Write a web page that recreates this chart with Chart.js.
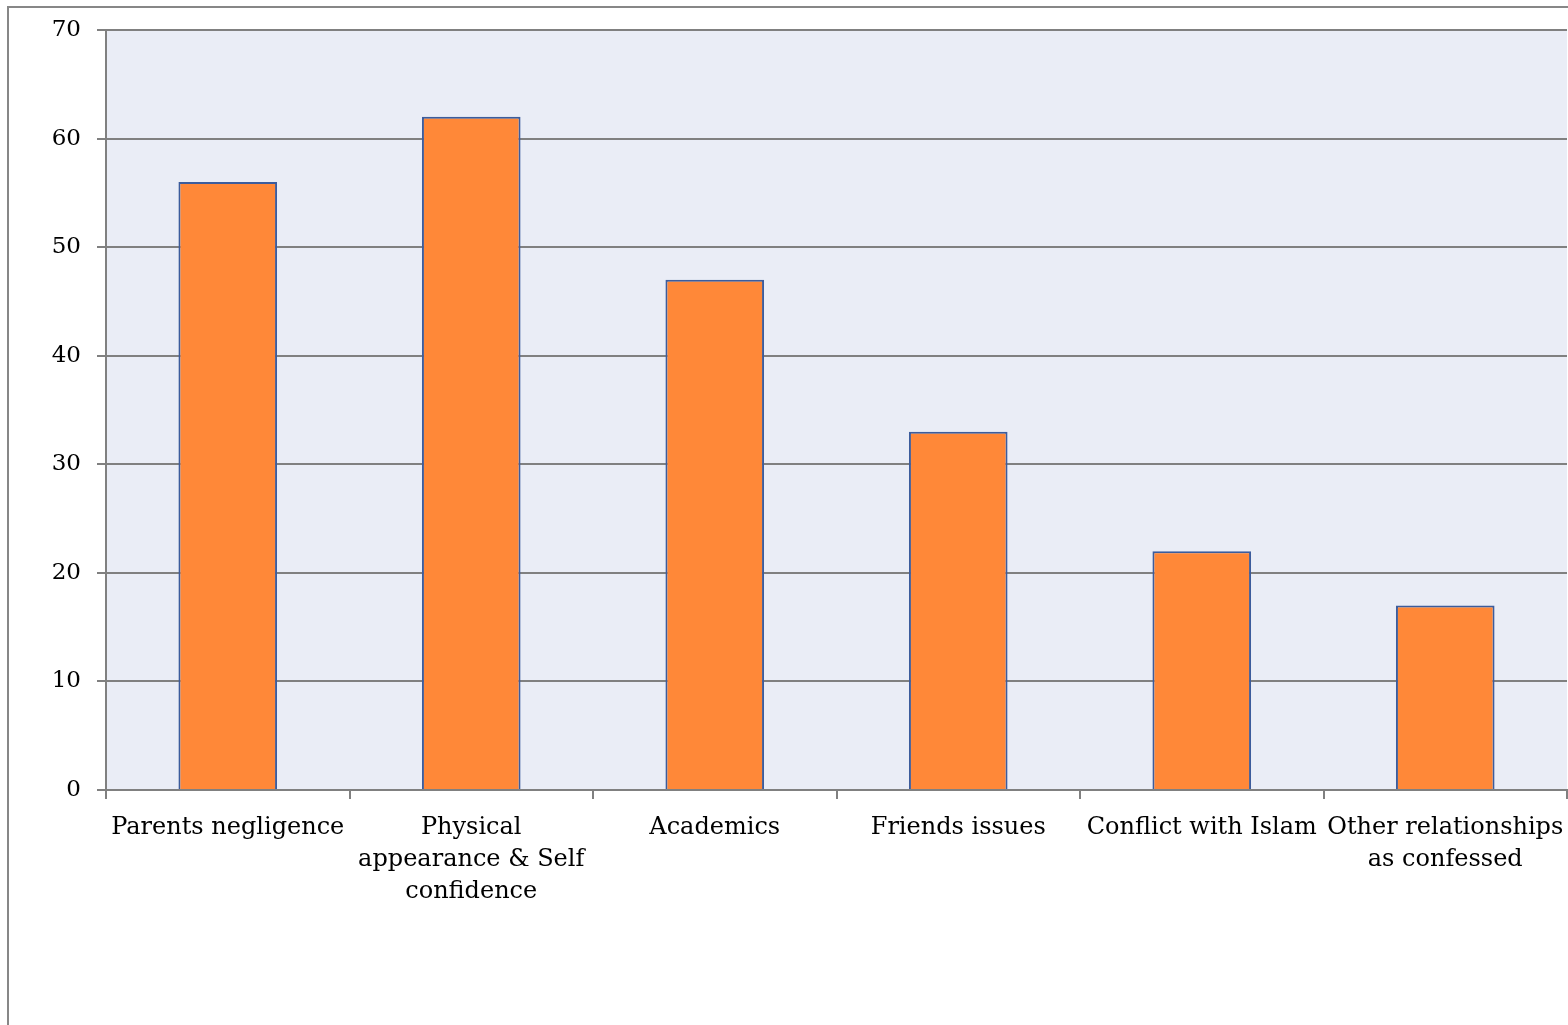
<!DOCTYPE html>
<html>
<head>
<meta charset="utf-8">
<script src="https://cdn.jsdelivr.net/npm/chart.js@4/dist/chart.umd.min.js"></script>
<style>
    html, body { margin: 0; padding: 0; background: #fff; overflow: hidden; }
    #frame {
        position: absolute; left: 7px; top: 6px; width: 1700px; height: 1200px;
        border: 2px solid #878787; box-sizing: border-box;
    }
    #wrap { position: absolute; left: 0; top: 0; width: 1568px; height: 1025px; }
</style>
</head>
<body>
<div id="frame"></div>
<div id="wrap"><canvas id="chart" width="1568" height="1025"></canvas></div>
<script>
const categories = [
    'Parents negligence',
    ['Physical', 'appearance & Self', 'confidence'],
    'Academics',
    'Friends issues',
    'Conflict with Islam',
    ['Other relationships', 'as confessed']
];
const values = [56, 62, 47, 33, 22, 17];
const yTicks = [0, 10, 20, 30, 40, 50, 60, 70];

const gridColor = '#808080';
const labelFont = { family: '"DejaVu Serif", serif', size: 24, lineHeight: 1.33 };

// plot area background
const plotBackground = {
    id: 'plotBackground',
    beforeDraw (chart) {
        const a = chart.chartArea;
        const ctx = chart.ctx;
        ctx.save();
        ctx.fillStyle = '#eaedf6';
        ctx.fillRect(a.left, a.top, a.right - a.left, a.bottom - a.top);
        ctx.restore();
    }
};

new Chart(document.getElementById('chart').getContext('2d'), {
    type: 'bar',
    data: {
        labels: categories,
        datasets: [{
            data: values,
            backgroundColor: '#ff8838',
            borderColor: '#3c5c9c',
            borderWidth: 2,
            barPercentage: 0.81,
            categoryPercentage: 0.5
        }]
    },
    options: {
        responsive: false,
        animation: false,
        layout: { padding: { left: 0, top: 30, right: 1, bottom: 0 } },
        plugins: {
            legend: { display: false },
            tooltip: { enabled: false }
        },
        scales: {
            x: {
                afterFit (scale) {
                    scale.height = 235;
                    // the long last label may run to the edge, as in the original
                    scale.paddingLeft = 0;
                    scale.paddingRight = 0;
                },
                grid: {
                    offset: true,
                    drawOnChartArea: false,
                    color: gridColor,
                    lineWidth: 2,
                    tickLength: 9
                },
                border: { color: gridColor, width: 2 },
                ticks: {
                    color: '#000',
                    font: labelFont,
                    padding: 13,
                    maxRotation: 0,
                    autoSkip: false
                }
            },
            y: {
                min: 0,
                max: 70,
                afterFit (scale) { scale.width = 106; },
                afterBuildTicks (scale) {
                    scale.ticks = yTicks.map(v => ({ value: v }));
                },
                grid: {
                    color: gridColor,
                    lineWidth: 2,
                    tickLength: 9
                },
                border: { color: gridColor, width: 2 },
                ticks: {
                    color: '#000',
                    font: { family: '"DejaVu Serif", serif', size: 23 },
                    padding: 16
                }
            }
        }
    },
    plugins: [plotBackground]
});
</script>
</body>
</html>
